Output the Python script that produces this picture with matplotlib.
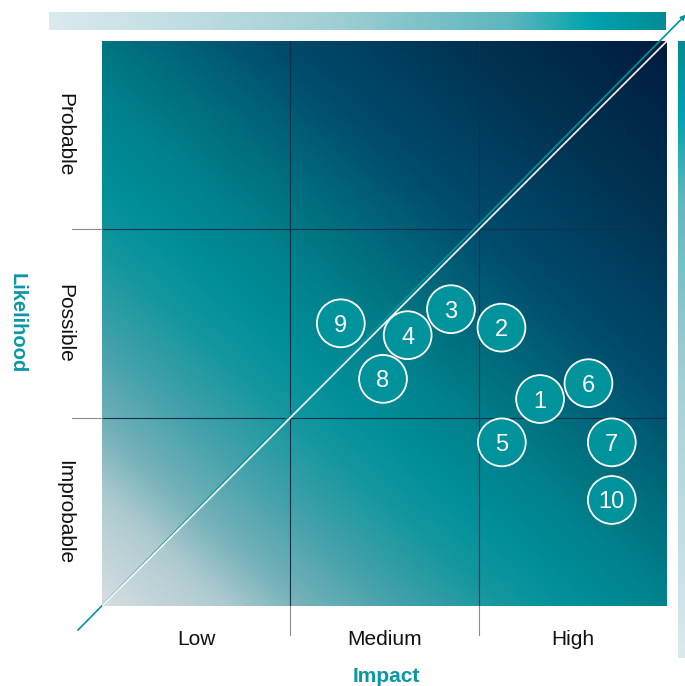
#!/usr/bin/env python3
"""Risk matrix: likelihood vs impact with numbered risks."""

import matplotlib
matplotlib.use("Agg")
import matplotlib.pyplot as plt
from matplotlib.colors import LinearSegmentedColormap
from matplotlib.patches import Circle
import numpy as np

plt.rcParams["font.family"] = ["Liberation Sans", "DejaVu Sans"]

# --- data -------------------------------------------------------------
impact_labels = ["Low", "Medium", "High"]
likelihood_labels = ["Improbable", "Possible", "Probable"]
risk_ids = ["1", "2", "3", "4", "5", "6", "7", "8", "9", "10"]
risk_impact = [2.326, 2.121, 1.853, 1.623, 2.123, 2.583, 2.707, 1.492, 1.268, 2.707]
risk_likelihood = [1.099, 1.478, 1.576, 1.438, 0.869, 1.183, 0.869, 1.206, 1.501, 0.563]

TEAL = "#00939c"
TEXT_TEAL = "#0a97a3"
GRID_IN = "#12304a"
GRID_OUT = "#8c8c8c"

square_cmap = LinearSegmentedColormap.from_list(
    "sq",
    [(0.0, "#d6dde1"), (0.1, "#aecbd0"), (0.167, "#74b1b9"), (0.25, "#41a1aa"),
     (0.333, "#14979f"), (0.4, "#008f99"), (0.47, "#00838e"),
     (0.53, "#007581"), (0.667, "#004c6d"), (0.833, "#003252"), (1.0, "#001c40")],
)
bar_cmap = LinearSegmentedColormap.from_list(
    "bar",
    [(0.0, "#dbeaee"), (0.45, "#a2d0d5"), (0.75, "#5cb6be"),
     (0.88, "#00a3ae"), (1.0, "#008c96")],
)

fig = plt.figure(figsize=(6.85, 6.86), dpi=100)
W, H = 685, 686
ax = fig.add_axes([102 / W, 80 / H, 565 / W, 565 / H])
ax.set_xlim(0, 3)
ax.set_ylim(0, 3)
ax.set_axis_off()

# background gradient of the matrix
n = 300
u, v = np.meshgrid(np.linspace(0, 1, n), np.linspace(0, 1, n))
t = 0.47 * u + 0.53 * v
ax.imshow(t, extent=(0, 3, 0, 3), origin="lower", cmap=square_cmap,
          vmin=0, vmax=1, aspect="auto", interpolation="bilinear", zorder=0)

# top and right gradient bars
grad = np.linspace(0, 1, 256)
top = ax.imshow(grad[np.newaxis, :], extent=(-0.281, 2.995, 3.059, 3.154),
                cmap=bar_cmap, aspect="auto", zorder=1)
top.set_clip_on(False)
right = ax.imshow(grad[:, np.newaxis], extent=(3.059, 3.12, -0.276, 3.0),
                  origin="lower", cmap=bar_cmap, aspect="auto", zorder=1)
right.set_clip_on(False)

# grid lines
for k in (1, 2):
    ax.plot([k, k], [0, 3], color=GRID_IN, lw=0.8, zorder=2)
    ax.plot([k, k], [-0.155, 0], color=GRID_OUT, lw=0.8, zorder=2, clip_on=False)
    ax.plot([0, 3], [k, k], color=GRID_IN, lw=0.8, zorder=2)
    ax.plot([-0.16, 0], [k, k], color=GRID_OUT, lw=0.8, zorder=2, clip_on=False)

# diagonal
ax.annotate("", xy=(3.1, 3.14), xytext=(-0.128, -0.128),
            arrowprops=dict(arrowstyle="-|>", color=TEAL, lw=1.2,
                            mutation_scale=7, shrinkA=0, shrinkB=0),
            annotation_clip=False, zorder=3)
ax.plot([0, 3], [0, 3], color="white", lw=1.2, zorder=4)

# risks
for rid, x, y in zip(risk_ids, risk_impact, risk_likelihood):
    ax.add_patch(Circle((x, y), 0.127, facecolor=TEAL, edgecolor="white",
                        lw=1.3, zorder=5))
    ax.text(x, y, rid, color="white", fontsize=17, ha="center",
            va="center_baseline", zorder=6)

# axis labels
for i, lab in enumerate(impact_labels):
    ax.text(i + 0.5, -0.18, lab, fontsize=15, ha="center", va="center",
            color="#111111", clip_on=False)
for i, lab in enumerate(likelihood_labels):
    ax.text(-0.2, i + 0.5, lab, fontsize=15, ha="center", va="center",
            rotation=-90, color="#111111", clip_on=False)
ax.text(1.508, -0.375, "Impact", fontsize=15, fontweight="bold",
        color=TEXT_TEAL, ha="center", va="center", clip_on=False)
ax.text(-0.45, 1.5, "Likelihood", fontsize=14.5, fontweight="bold",
        color=TEXT_TEAL, ha="center", va="center", rotation=-90, clip_on=False)

fig.savefig("out.png", dpi=100)
